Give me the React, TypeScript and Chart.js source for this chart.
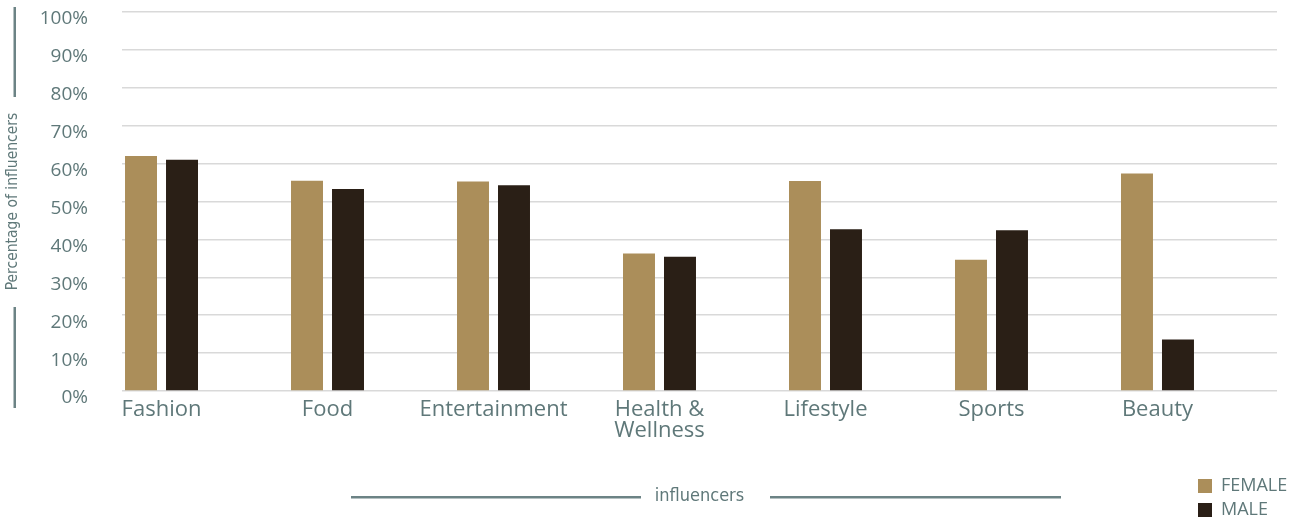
import { useEffect, useRef } from "react";
import { Chart, registerables } from "chart.js";

Chart.register(...registerables);

// Categories, one group of bars each
const categories: (string | string[])[] = [
  "Fashion",
  "Food",
  "Entertainment",
  ["Health &", "Wellness"],
  "Lifestyle",
  "Sports",
  "Beauty",
];

// Share of influencers per category (%)
const femaleValues = [62.0, 55.5, 55.3, 36.3, 55.4, 34.6, 57.4];
const maleValues = [61.0, 53.3, 54.3, 35.4, 42.7, 42.4, 13.6];

const seriesLabels = ["FEMALE", "MALE"];
const seriesColors = ["#ab8e5a", "#2a1f16"];

const yTickValues = [0, 10, 20, 30, 40, 50, 60, 70, 80, 90, 100];
const yTitle = "Percentage of influencers";
const xTitle = "influencers";

const TEXT = "#5f7879";
const RULE = "#6c8385";
const GRID = "#d9d9d9";
const FONT = "'Open Sans', 'Noto Sans', sans-serif";
const NARROW = "'Liberation Sans Narrow', 'DejaVu Sans Condensed', 'Open Sans', sans-serif";

// Decorative rules beside the axis titles, plus the legend in the lower right
const decorations = {
  id: "decorations",
  afterDraw(chart: any) {
    const { ctx, chartArea } = chart;
    const { top, bottom, left, right } = chartArea;
    ctx.save();
    ctx.fillStyle = RULE;

    // vertical rules around the y title
    const rx = 13.5;
    ctx.fillRect(rx, top - 5, 2.5, 90);
    ctx.fillRect(rx, top + 295, 2.5, bottom + 17 - (top + 295));

    // horizontal rules around the x title
    const cx = (left + right) / 2;
    const ry = 496;
    ctx.fillRect(cx - 348.5, ry, 290, 2.5);
    ctx.fillRect(cx + 70.5, ry, 291, 2.5);

    // legend
    const lx = right - 79;
    chart.data.datasets.forEach((ds: any, i: number) => {
      const y = 479 + i * 24;
      ctx.fillStyle = ds.backgroundColor;
      ctx.fillRect(lx, y, 14, 14);
      ctx.fillStyle = TEXT;
      ctx.font = `18px ${FONT}`;
      ctx.textBaseline = "middle";
      ctx.textAlign = "left";
      ctx.fillText(ds.label, lx + 23, y + 7);
    });
    ctx.restore();
  },
};

export default function App() {
  const canvasRef = useRef<HTMLCanvasElement | null>(null);

  useEffect(() => {
    if (!canvasRef.current) return;
    const chart = new Chart(canvasRef.current, {
      type: "bar",
      data: {
        datasets: [
          {
            label: seriesLabels[0],
            data: femaleValues.map((v, i) => ({ x: i, y: v })),
            backgroundColor: seriesColors[0],
          },
          {
            label: seriesLabels[1],
            data: maleValues.map((v, i) => ({ x: i, y: v })),
            backgroundColor: seriesColors[1],
          },
        ],
      },
      options: {
        responsive: false,
        animation: false,
        layout: { autoPadding: false, padding: { top: 12, right: 23, bottom: 0, left: 0 } },
        datasets: {
          bar: { categoryPercentage: 0.494, barPercentage: 0.78 },
        },
        plugins: {
          legend: { display: false },
          tooltip: { enabled: false },
        },
        scales: {
          x: {
            type: "linear",
            offset: false,
            min: -0.238,
            max: 6.72,
            grid: { display: false },
            border: { display: false },
            afterBuildTicks: (axis: any) => {
              axis.ticks = categories.map((_, i) => ({ value: i }));
            },
            afterFit: (axis: any) => {
              axis.height = 129;
              axis.paddingLeft = 0;
              axis.paddingRight = 0;
            },
            ticks: {
              autoSkip: false,
              maxRotation: 0,
              padding: 0,
              color: TEXT,
              font: { family: FONT, size: 22, lineHeight: 0.95 },
              callback: (v: any) => categories[Math.round(Number(v))] as any,
            },
            title: {
              display: true,
              text: xTitle,
              color: TEXT,
              font: { family: NARROW, size: 18 },
              padding: { top: 0, bottom: 13 },
            },
          },
          y: {
            min: 0,
            max: 100,
            afterBuildTicks: (axis: any) => {
              axis.ticks = yTickValues.map((v) => ({ value: v }));
            },
            afterFit: (axis: any) => {
              axis.width = 122;
              axis.paddingTop = 0;
              axis.paddingBottom = 0;
            },
            grid: { color: GRID, lineWidth: 1.5, drawTicks: false },
            border: { display: false },
            ticks: {
              padding: 34,
              labelOffset: 7,
              color: TEXT,
              font: { family: FONT, size: 19 },
              callback: (v: any) => `${v}%`,
            },
            title: {
              display: true,
              text: yTitle,
              color: TEXT,
              font: { family: NARROW, size: 15.5 },
              padding: { top: 4, bottom: 0 },
            },
          },
        },
      },
      plugins: [decorations],
    });
    return () => chart.destroy();
  }, []);

  return (
    <div style={{ position: "fixed", left: 0, top: 0, width: 1300, height: 520, background: "#fff" }}>
      <canvas ref={canvasRef} width={1300} height={520} style={{ display: "block" }} />
    </div>
  );
}
